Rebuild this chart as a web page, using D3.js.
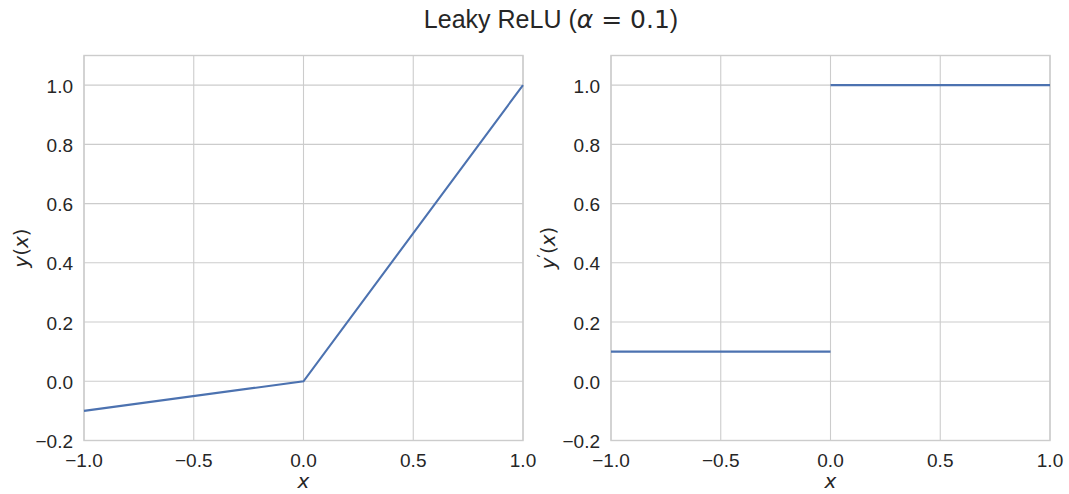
<!DOCTYPE html>
<html><head><meta charset="utf-8">
<script src="https://cdn.jsdelivr.net/npm/d3@7"></script>
<style>body{margin:0;background:#fff}</style>
</head><body>
<svg id="c" width="1069" height="494"></svg>
<script>
const xTicks = [-1.0, -0.5, 0.0, 0.5, 1.0];
const yTicks = [-0.2, 0.0, 0.2, 0.4, 0.6, 0.8, 1.0];
const alpha = 0.1;
// Leaky ReLU sample points
const fX = [-1.0, 0.0, 1.0];
const fY = [-0.1, 0.0, 1.0];
// derivative segments (step, no vertical connector)
const dSegments = [
  {x: [-1.0, 0.0], y: [0.1, 0.1]},
  {x: [0.0, 1.0], y: [1.0, 1.0]}
];
const titleText = "Leaky ReLU (";

(function(){
const svg = d3.select("#c");
const font = "'Liberation Sans', Arial, sans-serif";
const mfont = "'DejaVu Sans', sans-serif";
const textCol = "#262626", gridCol = "#cccccc", lineCol = "#4c72b0";

const panels = [
  {x0: 84, x1: 523, prime: false, series: [{x: fX, y: fY}]},
  {x0: 611, x1: 1050, prime: true, series: dSegments}
];
const pTop = 55.5, pBottom = 440.5;

panels.forEach(p => {
  const x = d3.scaleLinear().domain([-1, 1]).range([p.x0, p.x1]);
  const y = d3.scaleLinear().domain([-0.2, 1.1]).range([pBottom, pTop]);
  const g = svg.append("g");
  g.selectAll(".gx").data(xTicks).enter().append("line")
    .attr("x1", d => x(d)).attr("x2", d => x(d)).attr("y1", pTop).attr("y2", pBottom)
    .attr("stroke", gridCol).attr("stroke-width", 1.1);
  g.selectAll(".gy").data(yTicks).enter().append("line")
    .attr("y1", d => y(d)).attr("y2", d => y(d)).attr("x1", p.x0).attr("x2", p.x1)
    .attr("stroke", gridCol).attr("stroke-width", 1.1);
  g.append("rect").attr("x", p.x0).attr("y", pTop).attr("width", p.x1 - p.x0).attr("height", pBottom - pTop)
    .attr("fill", "none").attr("stroke", gridCol).attr("stroke-width", 1.4);
  const line = d3.line().x(d => x(d[0])).y(d => y(d[1]));
  p.series.forEach(s => {
    g.append("path").datum(d3.zip(s.x, s.y)).attr("d", line)
      .attr("fill", "none").attr("stroke", lineCol).attr("stroke-width", 2.1);
  });
  const fmt = d3.format(".1f");
  g.selectAll(".tx").data(xTicks).enter().append("text")
    .attr("x", d => x(d)).attr("y", 467).attr("text-anchor", "middle")
    .attr("font-family", font).attr("font-size", 19).attr("fill", textCol).text(d => fmt(d));
  g.selectAll(".ty").data(yTicks).enter().append("text")
    .attr("x", p.x0 - 11).attr("y", d => y(d) + 7.5).attr("text-anchor", "end")
    .attr("font-family", font).attr("font-size", 19).attr("fill", textCol).text(d => fmt(d));
  g.append("text").attr("x", (p.x0 + p.x1) / 2).attr("y", 488).attr("text-anchor", "middle")
    .attr("font-family", mfont).attr("font-style", "italic").attr("font-size", 20).attr("fill", textCol).text("x");
  const yl = g.append("text").attr("transform", `translate(${p.x0 - 56.5},248) rotate(-90)`)
    .attr("text-anchor", "middle").attr("font-family", mfont).attr("font-size", 20).attr("fill", textCol);
  yl.append("tspan").attr("font-style", "italic").text("y");
  if (p.prime) yl.append("tspan").attr("font-size", 15).attr("dy", -6).text("′");
  yl.append("tspan").attr("dy", p.prime ? 6 : 0).text("(");
  yl.append("tspan").attr("font-style", "italic").text("x");
  yl.append("tspan").text(")");
});

const t = svg.append("text").attr("x", 551).attr("y", 28).attr("text-anchor", "middle")
  .attr("font-family", font).attr("font-size", 25).attr("fill", textCol);
t.append("tspan").text(titleText);
t.append("tspan").attr("font-family", mfont).attr("font-style", "italic").text("α");
t.append("tspan").attr("font-family", mfont).text(" = " + alpha);
t.append("tspan").text(")");
})();
</script>
</body></html>
